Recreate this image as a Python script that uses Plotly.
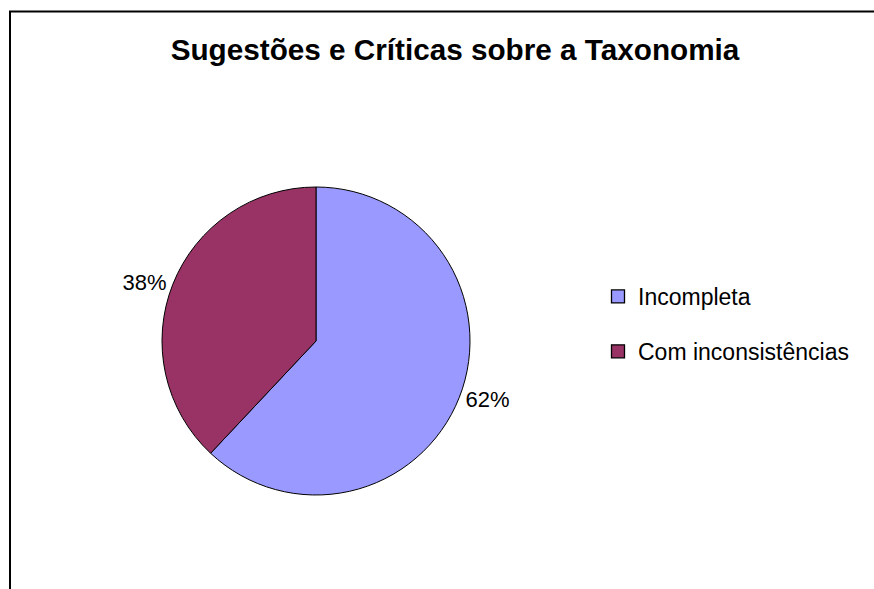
import plotly.graph_objects as go

categories = ["Incompleta", "Com inconsistências"]
values = [62, 38]
colors = ["#9999FF", "#993366"]
title_text = "Sugestões e Críticas sobre a Taxonomia"

W, H = 874, 589
FONT = "Liberation Sans, Arial, sans-serif"

# centre of pie in px
cx, cy = 316, 341
hw, hh = 205, 154

fig = go.Figure()
fig.add_trace(go.Pie(
    labels=categories,
    values=values,
    sort=False,
    direction="clockwise",
    rotation=0,
    marker=dict(colors=colors, line=dict(color="black", width=1)),
    textposition="outside",
    texttemplate="%{percent:.0%}",
    textfont=dict(family=FONT, size=22, color="black"),
    hoverinfo="none",
    showlegend=False,
    domain=dict(x=[(cx - hw) / W, (cx + hw) / W],
                y=[1 - (cy + hh) / H, 1 - (cy - hh) / H]),
))

# legend entries (one per category)
for name, col in zip(categories, colors):
    fig.add_trace(go.Scatter(
        x=[None], y=[None], mode="markers", name=name, legendgroup=name,
        marker=dict(symbol="square", size=13, color=col,
                    line=dict(color="black", width=1.3)),
        hoverinfo="none",
    ))

fig.update_layout(
    width=W, height=H,
    margin=dict(l=0, r=0, t=0, b=0),
    paper_bgcolor="white",
    plot_bgcolor="white",
    font=dict(family=FONT, color="black"),
    xaxis=dict(visible=False),
    yaxis=dict(visible=False),
    title=dict(text="<b>" + title_text + "</b>",
               font=dict(family=FONT, size=29.7, color="black"),
               x=455 / W, xanchor="center", xref="paper",
               y=1 - 39.5 / H, yanchor="top", yref="container"),
    legend=dict(x=598 / W, xanchor="left", y=1 - 275 / H, yanchor="top",
                font=dict(family=FONT, size=23, color="black"),
                tracegroupgap=22, bgcolor="rgba(0,0,0,0)",
                itemclick=False, itemdoubleclick=False),
    shapes=[dict(type="rect", xref="paper", yref="paper",
                 x0=10 / W, x1=1.02, y0=-0.02, y1=1 - 11.5 / H,
                 line=dict(color="black", width=2), layer="above")],
)

fig.write_html("out.html")
